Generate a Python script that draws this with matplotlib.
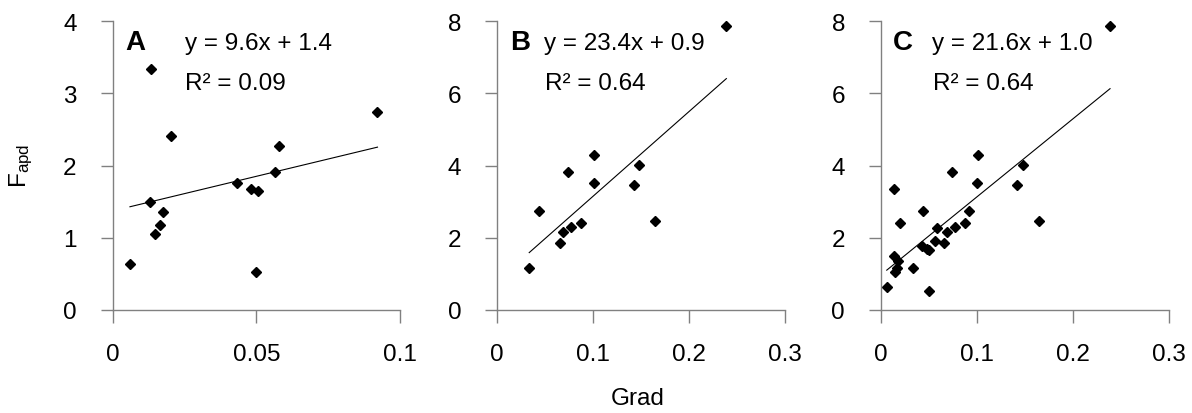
import matplotlib
matplotlib.use('Agg')
import matplotlib.pyplot as plt
import numpy as np

plt.rcParams['font.family'] = ['Liberation Sans', 'DejaVu Sans']
plt.rcParams['mathtext.fontset'] = 'custom'
plt.rcParams['mathtext.rm'] = 'Liberation Sans'

# panel A data
grad_a = [0.006, 0.0132, 0.0131, 0.0148, 0.0166, 0.0176, 0.0202,
          0.0432, 0.0481, 0.0504, 0.0499, 0.0564, 0.0580, 0.0921]
fapd_a = [0.63, 3.34, 1.50, 1.05, 1.17, 1.35, 2.41,
          1.76, 1.68, 1.65, 0.52, 1.91, 2.27, 2.74]

# panel B data
grad_b = [0.0333, 0.0438, 0.0653, 0.0688, 0.074, 0.0768, 0.0872,
          0.1004, 0.1011, 0.1424, 0.1483, 0.165, 0.239]
fapd_b = [1.15, 2.73, 1.86, 2.15, 3.82, 2.29, 2.40,
          3.52, 4.28, 3.47, 4.02, 2.45, 7.86]

# panel C = A + B
grad_c = grad_a + grad_b
fapd_c = fapd_a + fapd_b

letters = ['A', 'B', 'C']
equations = ['y = 9.6x + 1.4', 'y = 23.4x + 0.9', 'y = 21.6x + 1.0']
r2_labels = ['R² = 0.09', 'R² = 0.64', 'R² = 0.64']
xlims = [0.1, 0.3, 0.3]
ylims = [4, 8, 8]
xticks = [[0, 0.05, 0.1], [0, 0.1, 0.2, 0.3], [0, 0.1, 0.2, 0.3]]
xticklabels = [['0', '0.05', '0.1'], ['0', '0.1', '0.2', '0.3'], ['0', '0.1', '0.2', '0.3']]
yticks = [[0, 1, 2, 3, 4], [0, 2, 4, 6, 8], [0, 2, 4, 6, 8]]

W, H = 1192, 414
fig = plt.figure(figsize=(W / 100, H / 100), dpi=100)

lefts = [112.7, 497.3, 881.0]
ax_w, top, bottom = 287.5, 22.3, 310.7
letter_x = [0.044, 0.046, 0.041]
eq_x = [0.252, 0.162, 0.177]
r2_x = [0.252, 0.166, 0.182]

data = [(grad_a, fapd_a), (grad_b, fapd_b), (grad_c, fapd_c)]
fs = 17.5
for i, (gx, gy) in enumerate(data):
    ax = fig.add_axes([lefts[i] / W, (H - bottom) / H, ax_w / W, (bottom - top) / H])
    ax.plot(gx, gy, 'D', color='black', ms=5.5, clip_on=False)
    k, b = np.polyfit(gx, gy, 1)
    xs = np.array([min(gx), max(gx)])
    ax.plot(xs, k * xs + b, color='black', lw=0.8)
    ax.set_xlim(0, xlims[i])
    ax.set_ylim(0, ylims[i])
    ax.set_xticks(xticks[i])
    ax.set_xticklabels(xticklabels[i])
    ax.set_yticks(yticks[i])
    for s in ['top', 'right']:
        ax.spines[s].set_visible(False)
    for s in ['left', 'bottom']:
        ax.spines[s].set_color('#808080')
        ax.spines[s].set_linewidth(1.0)
    ax.tick_params(axis='both', direction='out', length=9, width=1.0, color='#808080', labelsize=fs)
    ax.tick_params(axis='x', pad=15)
    ax.tick_params(axis='y', pad=17)
    ax.text(letter_x[i], 0.904, letters[i], transform=ax.transAxes, fontsize=20,
            fontweight='bold', va='baseline', ha='left')
    ax.text(eq_x[i], 0.905, equations[i], transform=ax.transAxes, fontsize=fs,
            va='baseline', ha='left')
    ax.text(r2_x[i], 0.765, r2_labels[i], transform=ax.transAxes, fontsize=fs,
            va='baseline', ha='left')

fig.text(21 / W, 1 - 166 / H, r'$\mathregular{F_{apd}}$', rotation=90, fontsize=fs,
         ha='center', va='center')
fig.text(638 / W, 1 - 399 / H, 'Grad', fontsize=fs, ha='center', va='center')

fig.savefig('out.png', dpi=100)
